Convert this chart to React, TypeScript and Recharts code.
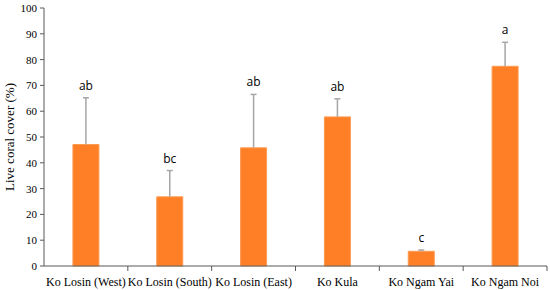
import React from "react";
import { BarChart, Bar, XAxis, YAxis, LabelList } from "recharts";

const sites = [
  "Ko Losin (West)",
  "Ko Losin (South)",
  "Ko Losin (East)",
  "Ko Kula",
  "Ko Ngam Yai",
  "Ko Ngam Noi",
];
const cover = [47.1, 26.8, 45.8, 57.8, 5.7, 77.4];
const errors = [18.1, 10.2, 20.7, 7.0, 0.5, 9.3];
const letters = ["ab", "bc", "ab", "ab", "c", "a"];
const yTicks = [0, 10, 20, 30, 40, 50, 60, 70, 80, 90, 100];

const data = sites.map((site, i) => ({
  site,
  cover: cover[i],
  err: errors[i],
  letter: letters[i],
}));

const AXIS = "#595959";

const XTick = (props: any) => {
  const { x, y, payload } = props;
  const off = payload.offset || 0;
  return (
    <g>
      <line x1={x + off} x2={x + off} y1={y - 8} y2={y - 3} stroke={AXIS} strokeWidth={1} />
      <text
        x={x}
        y={y + 12}
        textAnchor="middle"
        fontFamily="'Liberation Serif', 'Times New Roman', serif"
        fontSize={12}
        fill="#000"
      >
        {payload.value}
      </text>
    </g>
  );
};

const ErrAndLetter = (props: any) => {
  const { x, y, width, height, value, index } = props;
  const d = data[index];
  const pxPerUnit = height / value;
  const cx = x + width / 2;
  const yTop = y - d.err * pxPerUnit;
  return (
    <g>
      <line x1={cx} x2={cx} y1={y} y2={yTop} stroke="#A6A6A6" strokeWidth={1.5} />
      <line x1={cx - 3} x2={cx + 3} y1={yTop} y2={yTop} stroke="#A6A6A6" strokeWidth={1.5} />
      <text
        x={cx}
        y={yTop - 8}
        textAnchor="middle"
        fontFamily="'Open Sans', 'Liberation Sans', sans-serif"
        fontSize={12}
        fill="#000"
      >
        {d.letter}
      </text>
    </g>
  );
};

export default function App() {
  return (
    <div style={{ position: "absolute", left: 0, top: 0, width: 550, height: 290, background: "#fff" }}>
      <BarChart
        width={550}
        height={290}
        data={data}
        margin={{ top: 8, right: 3, left: 0, bottom: 0 }}
        barCategoryGap="34.5%"
      >
        <XAxis
          dataKey="site"
          height={24}
          axisLine={{ stroke: AXIS }}
          tickLine={false}
          tick={<XTick />}
          interval={0}
        />
        <YAxis
          domain={[0, 100]}
          ticks={yTicks}
          width={44}
          axisLine={{ stroke: AXIS }}
          tickLine={{ stroke: AXIS }}
          tickSize={4}
          tickMargin={3}
          tick={{ fontFamily: "'Liberation Serif', 'Times New Roman', serif", fontSize: 11, fill: "#000" }}
          label={{
            value: "Live coral cover (%)",
            angle: -90,
            position: "insideLeft",
            dx: 4,
            style: {
              textAnchor: "middle",
              fontFamily: "'Liberation Serif', 'Times New Roman', serif",
              fontSize: 13,
              fill: "#000",
            },
          }}
        />
        <Bar dataKey="cover" fill="#FF7F27" stroke="#FF9A50" strokeWidth={1} isAnimationActive={false}>
          <LabelList dataKey="cover" content={<ErrAndLetter />} />
        </Bar>
      </BarChart>
    </div>
  );
}
